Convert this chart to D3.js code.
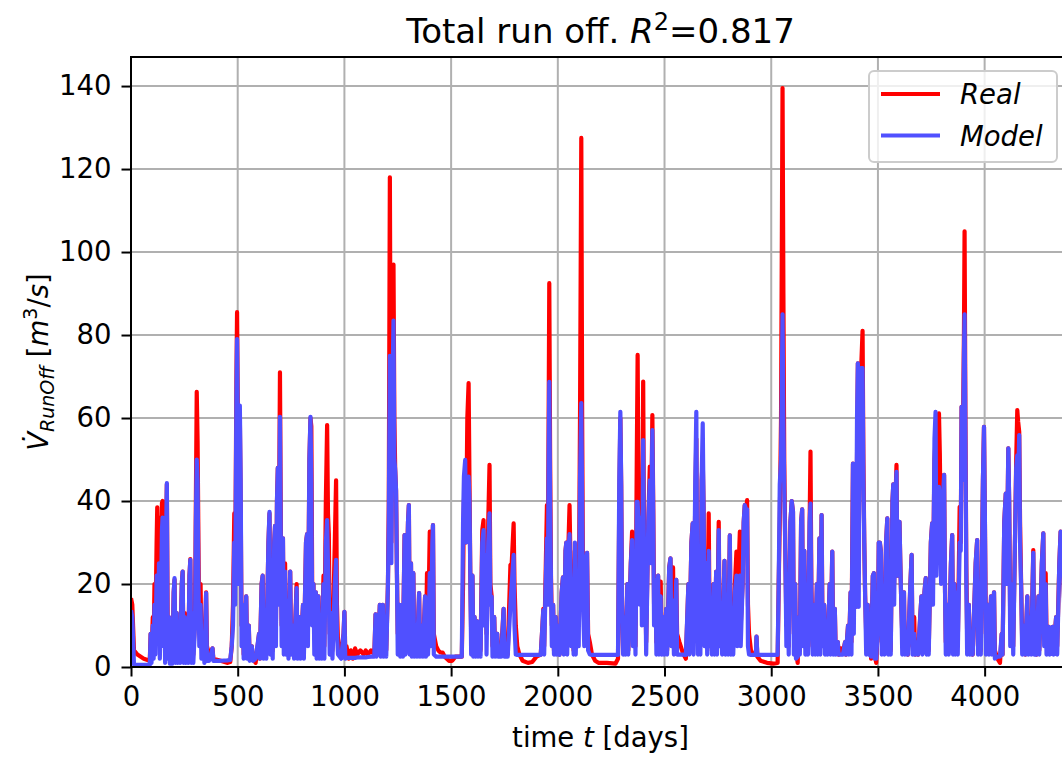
<!DOCTYPE html>
<html>
<head>
<script src="https://d3js.org/d3.v7.min.js"></script>
<style>
    body { margin: 0; background: #ffffff; font-family: 'DejaVu Sans', sans-serif; }
</style>
</head>
<body>
<svg id="chart" width="1062" height="757"></svg>
<script>
// daily run off (day, real, model)
const days = [
    0,6,14,30,60,88,92,96,102,106,
    110,114,120,123,127,131,135,141,145,148,
    152,156,160,164,168,172,178,182,190,194,
    200,204,208,214,218,226,230,238,242,246,
    252,256,264,268,274,278,282,288,292,300,
    304,308,312,316,320,326,330,340,344,352,
    356,366,382,386,420,450,465,472,478,484,
    488,494,497,501,505,510,514,518,524,528,
    540,544,552,556,566,572,584,600,604,612,
    617,621,630,634,644,649,653,660,664,671,
    675,679,684,688,692,698,702,706,712,716,
    722,726,734,738,746,750,760,764,776,780,
    790,794,806,810,820,825,829,836,841,845,
    849,855,859,866,870,878,882,890,894,902,
    906,913,919,923,927,931,940,944,955,961,
    965,970,985,996,1000,1004,1010,1020,1030,1040,
    1050,1060,1075,1090,1100,1110,1125,1140,1146,1150,
    1162,1166,1170,1180,1184,1192,1196,1204,1208,1213,
    1217,1220,1226,1230,1234,1238,1242,1246,1250,1258,
    1262,1270,1274,1282,1286,1298,1302,1306,1312,1316,
    1323,1327,1336,1340,1350,1354,1364,1368,1378,1382,
    1387,1392,1400,1405,1412,1415,1419,1430,1440,1450,
    1460,1470,1490,1505,1520,1550,1556,1560,1566,1570,
    1576,1582,1586,1590,1594,1600,1604,1610,1614,1622,
    1626,1634,1638,1646,1652,1656,1662,1666,1674,1680,
    1684,1690,1694,1702,1706,1716,1720,1735,1746,1750,
    1765,1778,1784,1793,1797,1803,1810,1820,1835,1860,
    1880,1900,1920,1928,1932,1936,1942,1949,1953,1957,
    1960,1964,1968,1972,1978,1982,1990,1994,2004,2008,
    2018,2024,2028,2036,2040,2044,2050,2055,2059,2063,
    2070,2074,2080,2084,2092,2098,2104,2110,2114,2118,
    2124,2132,2137,2142,2150,2160,2175,2190,2230,2270,
    2282,2288,2293,2297,2301,2306,2314,2318,2326,2330,
    2342,2348,2352,2360,2364,2370,2374,2378,2384,2390,
    2394,2400,2404,2410,2414,2424,2431,2436,2443,2447,
    2451,2458,2462,2470,2474,2482,2486,2494,2498,2508,
    2512,2522,2528,2532,2540,2544,2555,2559,2570,2585,
    2600,2612,2616,2626,2632,2636,2644,2649,2653,2657,
    2664,2668,2674,2679,2683,2688,2696,2700,2707,2711,
    2718,2722,2730,2734,2742,2746,2754,2758,2766,2770,
    2781,2785,2794,2798,2806,2810,2818,2822,2830,2837,
    2841,2848,2853,2857,2866,2871,2876,2882,2887,2891,
    2896,2905,2915,2928,2931,2935,2950,2980,3010,3030,
    3035,3040,3046,3053,3057,3061,3066,3071,3078,3082,
    3090,3096,3102,3106,3112,3116,3124,3130,3134,3140,
    3145,3149,3155,3160,3168,3172,3180,3184,3188,3194,
    3202,3206,3214,3218,3226,3230,3236,3240,3248,3252,
    3260,3264,3274,3278,3286,3290,3298,3302,3312,3316,
    3326,3336,3346,3350,3360,3364,3372,3376,3383,3387,
    3393,3397,3402,3406,3410,3415,3420,3428,3432,3436,
    3440,3445,3452,3456,3464,3468,3476,3481,3485,3492,
    3500,3504,3509,3514,3518,3526,3530,3538,3544,3548,
    3556,3560,3568,3572,3576,3582,3587,3591,3596,3601,
    3605,3610,3614,3622,3626,3636,3640,3652,3658,3662,
    3670,3674,3684,3688,3698,3704,3708,3718,3724,3728,
    3734,3738,3748,3754,3758,3765,3770,3774,3780,3786,
    3790,3796,3804,3810,3814,3818,3828,3832,3842,3848,
    3852,3858,3862,3870,3874,3883,3888,3892,3897,3903,
    3906,3910,3914,3918,3926,3930,3940,3944,3958,3965,
    3969,3978,3982,3992,3997,4001,4006,4016,4020,4030,
    4034,4044,4048,4060,4072,4080,4084,4092,4099,4103,
    4111,4115,4120,4130,4134,4142,4148,4153,4157,4162,
    4166,4172,4176,4186,4190,4200,4204,4214,4218,4228,
    4232,4240,4244,4252,4256,4268,4275,4279,4286,4290,
    4300,4304,4318,4322,4335,4340,4350,4356,4362,4380
];

const realFlow = [
    16.6,15,4,3,2,1.5,8,2,12,5,
    20,8,30,38.5,15,36,10,28,39.5,40,
    12,20,8,30,44,10,12,3,10,2,
    18,21,3,13,2,8,2,20,23,3,
    13,2,10,2,22,26,3,13,3,12,
    40,66.3,54.5,30,8,20,5,10,4,18,
    5,3,4.5,2,1.5,1,1.2,5,15,37,
    20,70,85.5,60,22,60,40,10,15,3,
    17,3,10,2,5,2,1,8,2,20,
    22,3,10,3,30,37,5,18,4,30,
    34,10,40,48,20,71,35,10,31,6,
    25,5,16,3,23,5,10,3,20,4,
    12,3,15,3,30,32,10,50,60,58,
    20,20,8,18,6,17,5,12,4,22,
    5,40,58.3,37,32,8,13,4,30,45,
    15,6,4,8,13.3,4,5,2,4,2,
    4.5,3,4,3,4,3,4,3,12.7,4,
    10,15,4,15,4,12,4,20,40,118,
    60,30,80,97,60,47.5,42.6,23,8,15,
    4,15,4,31.8,8,35,39,10,25,5,
    22.6,5,10,4,17.8,5,10,4,17,5,
    22.6,8,32.6,10,30,34.2,8,5,4,3.5,
    3.5,2.5,1.5,1.5,2.5,2.5,20,40,45,30,
    60,68.4,45,22,8,22,5,12,4,11,
    4,10,4,33,35.4,12,25,8,35,48.7,
    20,17,5,12,4,8,3,4,14,3,
    3,24.6,25,34.6,20,10,5,3,1.5,1,
    1.2,2.5,3,10,14,5,20,39,20,60,
    92.5,50,22,10,15,4,12,4,10,3,
    18,21.6,5,28,30,8,30,39,26,10,
    14,4,28,8,20,10,60,127.5,60,20,
    10,25,27.5,8,6,3,1.5,1,1,0.8,
    2,40,60,44,15,4,12,4,20,4,
    25,32.6,10,15,5,50,75.2,40,20,40,
    20,68.8,30,21.8,6,35,48.3,30,60.7,40,
    15,21,6,22,6,20.6,8,12,4,14,
    4,24,26.2,12,24,8,21,8,6,3.5,
    2,20,4,30,34.6,8,40,55,20,5,
    20,5,45,50,38.6,10,25,8,37,12,
    14,4,20,5,23,6,35,10,14,4,
    25.6,6,10,4,31.7,6,14,5,20,27.8,
    12,25,32.6,10,20,35,39,38,40.2,15,
    8,4,3,3,7.3,2.5,1.5,1,0.8,1,
    20,35,60,139.5,90,50,28,10,20,5,
    35,40,37.4,8,20,4,1,12,4,35,
    38,10,28,6,10,4,35,51.9,20,5,
    15,4,20,5,31,8,36.6,12,15,5,
    10,4,20,5,27.8,8,14,4,6,3,
    4.5,3.5,6,3,10,4,18,6,49,15,
    45,14.5,50,73.2,30,60,70,81,50,30,
    17.3,8,15,4,10,2,22,22.6,3,1,
    10,30,30,27.7,6,15,5,30,35.8,8,
    10,4,40,44,20,40,48.7,22,30,35,
    25,14,8,18,4,6,3,20,27,5,
    12,3,6,3,12,17,4,18,21.4,5,
    10,4,30,34.6,20,50,55,25,45,61.1,
    51.5,25,40,46.3,20,6,15,4,25,31.8,
    8,20,5,18,5,38.6,30,62.7,50,80,
    105,60,25,8,15,4,8,3,25,30.6,
    5,12,4,45,57.9,37,8,15,4,17,
    4,18,4,2,1,8,3,35,41.8,20,
    52.7,40,10,20,5,30,50,61.9,59.1,56.7,
    35,17,6,10,3,17,4,12,4,28.2,
    6,8,3,17,4,25,32.2,10,22.6,8,
    9.7,4,9.7,4,12,5,25,32.6,32,5
];

const modelFlow = [
    13.7,12,0.6,0.5,0.5,0.5,8,1,10,2,
    15,3,22,20,8,25,2,18,33,36,
    5,18,1,30,44.3,2,12,0.8,10,0.8,
    18,21.4,1,13,1,8,1,20,23,1,
    12,1,10,1,22,25.8,1,13,1,10,
    35,50,45,20,5,15,2,8,1,17.8,
    1.5,1.5,4.5,1.5,1.5,1.6,1.7,5,10,30,
    15,65,79,55,20,63,45,5,15,2,
    17,2,10,1.5,5,1.5,2,8,2,20,
    22,2,10,2,30,37.4,3,18,2,30,
    34,5,40,48,15,60.3,30,5,31,3,
    23,3,16,2,23,3,10,2,19,2,
    12,2,15,2,30,32,5,50,60.3,45,
    10,20,3,18,2,17,2,12,2,20,
    2,30,35.4,25,18,3,13,2,20,25.8,
    8,3,2,8,13.3,2,2.2,2.2,2.2,2.2,
    2.2,2.3,2.3,2.3,2.3,2.4,2.5,2.5,12.7,2.5,
    10,15,2.5,15,2.5,12,2.5,20,35,75,
    55,25,70,83.5,50,47.5,42.6,23,3,15,
    2.5,15,2.5,31.8,3,35,39,3,25,2.5,
    22.6,2.5,10,2.5,17.8,2.5,10,2.5,17,2.5,
    15,3,22.6,5,30,34.2,3,2.5,2.5,2.5,
    2.5,2.5,2.5,2.5,2.5,2.5,35,45.9,49.9,30,
    40,45.9,40,22,3,22,2.5,12,2.5,11,
    2.5,10,2.5,30,33,10,27,3,30,37,
    15,17,2.5,12,2.5,8,2.5,2.5,14,2.5,
    2.5,15,20,27,10,3,2.9,2.9,2.9,2.9,
    2.9,2.9,2.9,10,13.7,3,18,31,15,50,
    68.7,40,20,5,15,3,12,3,10,2.9,
    18,21.6,3,28,30,3,28,32,20,5,
    14,3,30,3,20,5,45,63.6,40,15,
    5,25,27.5,4,3,2.9,2.9,2.9,2.9,2.9,
    2.9,45,61.5,44,15,3,12,3,20,3,
    25,30.6,5,15,3,39.8,39.8,35,15,36,
    10,54.7,25,21.8,3,35,45,25,57.1,37,
    10,21,3,22,3,17,3,12,3,14,
    3,24,26.2,5,16,3,21,3,3,3,
    2.9,20,3,30,34.6,3,45,61.5,20,3,
    20,3,45,58.7,38.6,5,25,3,28,5,
    14,3,20,3,23,3,33,5,14,3,
    25.6,3,10,3,31.7,3,14,3,18,22,
    5,20,22,5,20,35,39,38,38,5,
    3,2.9,2.9,2.9,7.3,2.9,2.9,2.9,2.9,2.9,
    20,44,50,85,60,43,28,5,20,3,
    35,40,37.4,3,20,2,2.5,12,3,35,
    38,5,28,3,10,3,35,39.4,18,3,
    15,3,20,3,31,3,36.6,5,15,3,
    10,3,20,3,27.8,3,14,3,6,3,
    3,3,6,3,10,3,18,3,49,8,
    48,14.5,60,73.2,14.5,70,72,72,45,30,
    17.3,3,15,3,10,2.5,22,22.6,2,2,
    10,30,30,27.7,3,15,3,30,35.8,3,
    10,3,40,44,15,40,47,22,30,35,
    25,14,3,18,3,6,3,20,27,3,
    8,3,6,3,12,17,3,18,21.4,3,
    10,3,30,34.6,15,55,61.5,22,40,43.4,
    40,20,40,46.3,20,3,15,3,25,31.8,
    3,20,3,18,3,30,28,62.7,45,75,
    85,55,22,3,15,3,8,3,25,30.6,
    3,12,3,45,57.9,37,3,15,3,17,
    3,18,2,2.5,2.5,8,3,35,41.8,20,
    52.7,40,5,20,3,30,48,51,45,55.9,
    30,17,3,10,3,17,3,12,3,27.5,
    3,8,3,17,3,25,32.2,5,20,3,
    9.7,3,9.7,3,12,3,25,32.6,32,3
];

const xTicks = [0, 500, 1000, 1500, 2000, 2500, 3000, 3500, 4000];
const yTicks = [0, 20, 40, 60, 80, 100, 120, 140];
const seriesNames = ["Real", "Model"];
const seriesColors = ["#ff0000", "#5050ff"];

if (days.length !== realFlow.length || days.length !== modelFlow.length) {
    throw new Error("array lengths differ: " + days.length + " " + realFlow.length + " " + modelFlow.length);
}

var svg = d3.select("#chart");
// plot box (the right side runs past the picture's edge, as in the original)
var plotL = 131, plotT = 57, plotB = 667, plotR = 1070;

var x = d3.scaleLinear().domain([0, 4400]).range([plotL, plotR]);
var y = d3.scaleLinear().domain([0, 147]).range([plotB, plotT]);

svg.append("defs").append("clipPath").attr("id", "plotClip")
    .append("rect")
    .attr("x", plotL).attr("y", plotT)
    .attr("width", plotR - plotL).attr("height", plotB - plotT);

// grid
svg.append("g").selectAll("line").data(xTicks).enter().append("line")
    .attr("x1", d => x(d)).attr("x2", d => x(d))
    .attr("y1", plotT).attr("y2", plotB)
    .style("stroke", "#b0b0b0").style("stroke-width", "2px");
svg.append("g").selectAll("line").data(yTicks).enter().append("line")
    .attr("x1", plotL).attr("x2", plotR)
    .attr("y1", d => y(d)).attr("y2", d => y(d))
    .style("stroke", "#b0b0b0").style("stroke-width", "2px");

// lines
var plot = svg.append("g").attr("clip-path", "url(#plotClip)");
var series = [realFlow, modelFlow];
series.forEach(function (values, k) {
    var line = d3.line()
        .x(function (d, i) { return x(days[i]); })
        .y(function (d) { return y(d); });
    plot.append("path")
        .datum(values)
        .attr("d", line)
        .style("fill", "none")
        .style("stroke", seriesColors[k])
        .style("stroke-width", "4.2px")
        .style("stroke-linejoin", "round");
});

// axes
var xAxis = d3.axisBottom(x).tickValues(xTicks).tickSize(9.5).tickPadding(10).tickFormat(d3.format("d"));
var yAxis = d3.axisLeft(y).tickValues(yTicks).tickSize(9.5).tickPadding(10).tickFormat(d3.format("d"));

var gx = svg.append("g").attr("transform", "translate(0," + plotB + ")").call(xAxis);
var gy = svg.append("g").attr("transform", "translate(" + plotL + ",0)").call(yAxis);
[gx, gy].forEach(function (g) {
    g.select(".domain").remove();
    g.selectAll("line").style("stroke", "#000").style("stroke-width", "2px");
    g.selectAll("text")
        .style("font-family", "DejaVu Sans")
        .style("font-size", "27.5px")
        .style("fill", "#000");
});

// spines
svg.append("rect")
    .attr("x", plotL).attr("y", plotT)
    .attr("width", plotR - plotL).attr("height", plotB - plotT)
    .style("fill", "none").style("stroke", "#000").style("stroke-width", "2px");

// title
var title = svg.append("text")
    .attr("x", (plotL + plotR) / 2).attr("y", 43)
    .attr("text-anchor", "middle")
    .style("font-size", "34px").style("fill", "#000");
title.append("tspan").text("Total run off. ");
title.append("tspan").style("font-style", "italic").text("R");
title.append("tspan").attr("dy", -13).style("font-size", "24px").text("2");
title.append("tspan").attr("dy", 13).text("=0.817");

// x label
var xl = svg.append("text")
    .attr("x", (plotL + plotR) / 2).attr("y", 747)
    .attr("text-anchor", "middle")
    .style("font-size", "27.5px").style("fill", "#000");
xl.append("tspan").text("time ");
xl.append("tspan").style("font-style", "italic").text("t");
xl.append("tspan").text(" [days]");

// y label
var yl = svg.append("text")
    .attr("transform", "translate(48," + ((plotT + plotB) / 2) + ") rotate(-90)")
    .attr("text-anchor", "middle")
    .style("font-size", "27.5px").style("fill", "#000");
yl.append("tspan").style("font-style", "italic").text("V\u0307");
yl.append("tspan").attr("dy", 6).style("font-style", "italic").style("font-size", "19px").text("RunOff");
yl.append("tspan").attr("dy", -6).text(" [");
yl.append("tspan").style("font-style", "italic").text("m");
yl.append("tspan").attr("dy", -11).style("font-size", "19px").text("3");
yl.append("tspan").attr("dy", 11).text("/");
yl.append("tspan").style("font-style", "italic").text("s");
yl.append("tspan").text("]");

// legend
var legend = svg.append("g");
legend.append("rect")
    .attr("x", 869).attr("y", 71).attr("width", 188).attr("height", 91)
    .attr("rx", 5)
    .style("fill", "#ffffff").style("fill-opacity", 0.8)
    .style("stroke", "#cccccc").style("stroke-width", "2px");
seriesNames.forEach(function (name, k) {
    var ly = 94 + k * 41.5;
    legend.append("line")
        .attr("x1", 881).attr("x2", 940).attr("y1", ly).attr("y2", ly)
        .style("stroke", seriesColors[k]).style("stroke-width", "4.2px");
    legend.append("text")
        .attr("x", 960).attr("y", ly + 10)
        .style("font-size", "27.5px").style("font-style", "italic").style("fill", "#000")
        .text(name);
});
</script>
</body>
</html>
